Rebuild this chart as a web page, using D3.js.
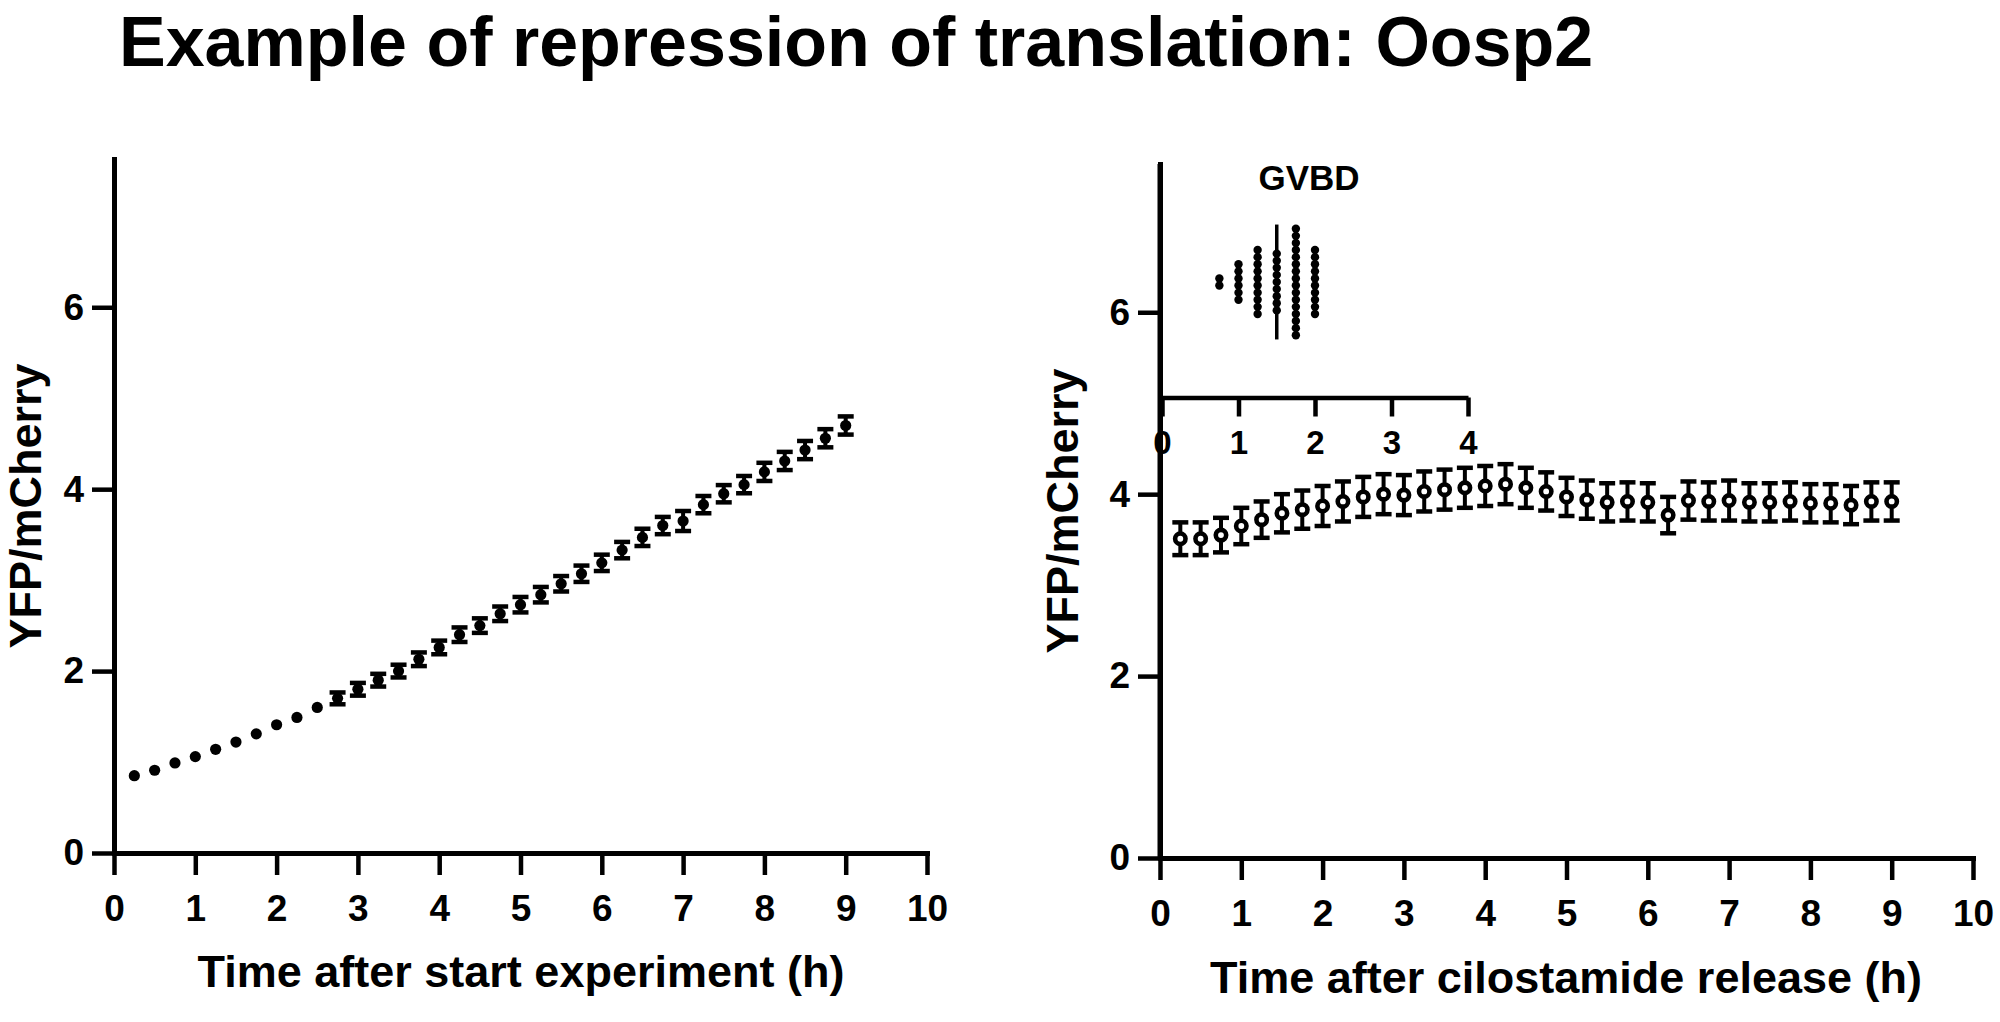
<!DOCTYPE html>
<html>
<head>
<meta charset="utf-8">
<script src="https://cdn.jsdelivr.net/npm/d3@7"></script>
<style>
body { margin: 0; background: #fff; }
text { font-family: "Liberation Sans", Arial, sans-serif; font-weight: bold; fill: #000; }
</style>
</head>
<body>
<svg id="chart" width="2000" height="1022"></svg>
<script>
// time points (h), same for both panels
var times = [0.25, 0.5, 0.75, 1, 1.25, 1.5, 1.75, 2, 2.25, 2.5, 2.75, 3,
  3.25, 3.5, 3.75, 4, 4.25, 4.5, 4.75, 5, 5.25, 5.5, 5.75, 6,
  6.25, 6.5, 6.75, 7, 7.25, 7.5, 7.75, 8, 8.25, 8.5, 8.75, 9];

// left panel: time after start experiment
var startMean = [0.85, 0.91, 0.99, 1.06, 1.14, 1.22, 1.31, 1.41, 1.49, 1.60, 1.70, 1.80,
  1.90, 2.00, 2.13, 2.26, 2.40, 2.50, 2.63, 2.73, 2.84, 2.96, 3.07, 3.19,
  3.33, 3.47, 3.60, 3.65, 3.83, 3.95, 4.05, 4.19, 4.31, 4.43, 4.56, 4.70];
var startErr = [0.03, 0.03, 0.035, 0.035, 0.04, 0.04, 0.045, 0.05, 0.05, 0.055, 0.065, 0.07,
  0.07, 0.07, 0.075, 0.075, 0.08, 0.08, 0.08, 0.085, 0.085, 0.085, 0.09, 0.09,
  0.09, 0.095, 0.095, 0.11, 0.095, 0.095, 0.095, 0.1, 0.1, 0.1, 0.1, 0.1];

// right panel: time after cilostamide release
var releaseMean = [3.51, 3.51, 3.55, 3.65, 3.72, 3.79, 3.83, 3.87, 3.92, 3.97, 4.00, 3.99,
  4.03, 4.05, 4.07, 4.09, 4.11, 4.07, 4.03, 3.97, 3.94, 3.91, 3.92, 3.91,
  3.77, 3.93, 3.92, 3.93, 3.91, 3.91, 3.92, 3.90, 3.90, 3.88, 3.92, 3.92];
var releaseErr = [0.18, 0.18, 0.19, 0.20, 0.20, 0.21, 0.21, 0.22, 0.22, 0.22, 0.22, 0.22,
  0.22, 0.22, 0.22, 0.22, 0.22, 0.22, 0.21, 0.21, 0.21, 0.21, 0.21, 0.21,
  0.20, 0.21, 0.21, 0.22, 0.21, 0.21, 0.21, 0.21, 0.21, 0.21, 0.21, 0.21];

// inset: GVBD times (h) and number of oocytes at each time
var gvbdTimes = [0.75, 1, 1.25, 1.5, 1.75, 2];
var gvbdCounts = [2, 6, 10, 9, 16, 10];
var gvbdMedian = 1.5;

var xTicks = [0, 1, 2, 3, 4, 5, 6, 7, 8, 9, 10];
var yTicks = [0, 2, 4, 6];
var insetTicks = [0, 1, 2, 3, 4];

var svg = d3.select('#chart');

svg.append('text')
  .attr('x', 119)
  .attr('y', 66)
  .attr('font-size', 70)
  .text('Example of repression of translation: Oosp2');

function styleAxis(g, fontSize) {
  g.select('.domain').attr('stroke-width', 5).attr('stroke-linecap', 'square');
  g.selectAll('.tick line').attr('stroke-width', 4.5);
  g.selectAll('.tick text')
    .attr('font-size', fontSize)
    .attr('font-family', '"Liberation Sans", Arial, sans-serif')
    .attr('font-weight', 'bold');
}

function drawAxes(x, y, xTitle, titleX, titleBase, yTitleX) {
  var gx = svg.append('g')
    .attr('transform', 'translate(0,' + y(0) + ')')
    .call(d3.axisBottom(x).tickValues(xTicks).tickSize(22).tickSizeOuter(0).tickPadding(20));
  styleAxis(gx, 37);

  var gy = svg.append('g')
    .attr('transform', 'translate(' + x(0) + ',0)')
    .call(d3.axisLeft(y).tickValues(yTicks).tickSize(22).tickSizeOuter(0).tickPadding(8));
  styleAxis(gy, 37);

  svg.append('text')
    .attr('x', titleX)
    .attr('y', titleBase)
    .attr('text-anchor', 'middle')
    .attr('font-size', 45)
    .text(xTitle);

  var midY = (y.range()[0] + y.range()[1]) / 2;
  svg.append('text')
    .attr('transform', 'translate(' + yTitleX + ',' + midY + ') rotate(-90)')
    .attr('text-anchor', 'middle')
    .attr('font-size', 45)
    .text('YFP/mCherry');
}

// like Prism: a bar that would stay inside the symbol is not drawn
function drawErrorBars(x, y, means, errs, capW, symR) {
  var bars = svg.append('g').attr('stroke', '#000');
  times.forEach(function(t, i) {
    var lo = y(means[i] - errs[i]);
    var hi = y(means[i] + errs[i]);
    if (lo - y(means[i]) < symR) return;
    bars.append('line')
      .attr('x1', x(t)).attr('x2', x(t))
      .attr('y1', lo).attr('y2', hi)
      .attr('stroke-width', 4);
    bars.append('line')
      .attr('x1', x(t) - capW / 2).attr('x2', x(t) + capW / 2)
      .attr('y1', lo).attr('y2', lo)
      .attr('stroke-width', 4.5);
    bars.append('line')
      .attr('x1', x(t) - capW / 2).attr('x2', x(t) + capW / 2)
      .attr('y1', hi).attr('y2', hi)
      .attr('stroke-width', 4.5);
  });
}

// ---- left panel
var xL = d3.scaleLinear().domain([0, 10]).range([114, 927]);
var yL = d3.scaleLinear().domain([0, 7.63]).range([853, 159]);

drawAxes(xL, yL, 'Time after start experiment (h)', 521, 987, 41);
drawErrorBars(xL, yL, startMean, startErr, 16, 5.6);

svg.append('g').selectAll('circle')
  .data(times)
  .join('circle')
  .attr('cx', d => xL(d))
  .attr('cy', (d, i) => yL(startMean[i]))
  .attr('r', 5.6)
  .attr('fill', '#000');

// ---- right panel
var xR = d3.scaleLinear().domain([0, 10]).range([1160, 1973]);
var yR = d3.scaleLinear().domain([0, 7.63]).range([858, 164]);

drawAxes(xR, yR, 'Time after cilostamide release (h)', 1566, 993, 1078);
drawErrorBars(xR, yR, releaseMean, releaseErr, 16, 5.2);

svg.append('g').selectAll('circle')
  .data(times)
  .join('circle')
  .attr('cx', d => xR(d))
  .attr('cy', (d, i) => yR(releaseMean[i]))
  .attr('r', 5.2)
  .attr('fill', '#fff')
  .attr('stroke', '#000')
  .attr('stroke-width', 4.6);

// ---- inset: GVBD timing
var xI = d3.scaleLinear().domain([0, 4]).range([1162, 1468]);
var insetBase = 397.5;
var stackMid = 282;
var dotStep = 7.1;
var dotR = 4.2;

var gi = svg.append('g')
  .attr('transform', 'translate(0,' + insetBase + ')')
  .call(d3.axisBottom(xI).tickValues(insetTicks).tickFormat(d3.format('d'))
    .tickSize(19).tickSizeOuter(0).tickPadding(14));
gi.select('.domain').attr('stroke-width', 4.5);
gi.selectAll('.tick line').attr('stroke-width', 4.5);
gi.selectAll('.tick text')
  .attr('font-size', 33)
  .attr('font-family', '"Liberation Sans", Arial, sans-serif')
  .attr('font-weight', 'bold');

// main right y axis drawn again on top so it runs through the inset
svg.append('line')
  .attr('x1', xR(0)).attr('x2', xR(0))
  .attr('y1', yR.range()[1]).attr('y2', yR(0))
  .attr('stroke', '#000')
  .attr('stroke-width', 5);

var maxCount = d3.max(gvbdCounts);
var halfSpan = (maxCount - 1) * dotStep / 2 + dotR;
svg.append('line')
  .attr('x1', xI(gvbdMedian)).attr('x2', xI(gvbdMedian))
  .attr('y1', stackMid - halfSpan).attr('y2', stackMid + halfSpan)
  .attr('stroke', '#000')
  .attr('stroke-width', 3.5);

var gvbdDots = [];
gvbdTimes.forEach(function(t, i) {
  for (var k = 0; k < gvbdCounts[i]; k++) {
    gvbdDots.push({ t: t, off: (k - (gvbdCounts[i] - 1) / 2) * dotStep });
  }
});

svg.append('g').selectAll('circle')
  .data(gvbdDots)
  .join('circle')
  .attr('cx', d => xI(d.t))
  .attr('cy', d => stackMid + d.off)
  .attr('r', dotR)
  .attr('fill', '#000');

svg.append('text')
  .attr('x', 1309)
  .attr('y', 190)
  .attr('text-anchor', 'middle')
  .attr('font-size', 35)
  .text('GVBD');
</script>
</body>
</html>
